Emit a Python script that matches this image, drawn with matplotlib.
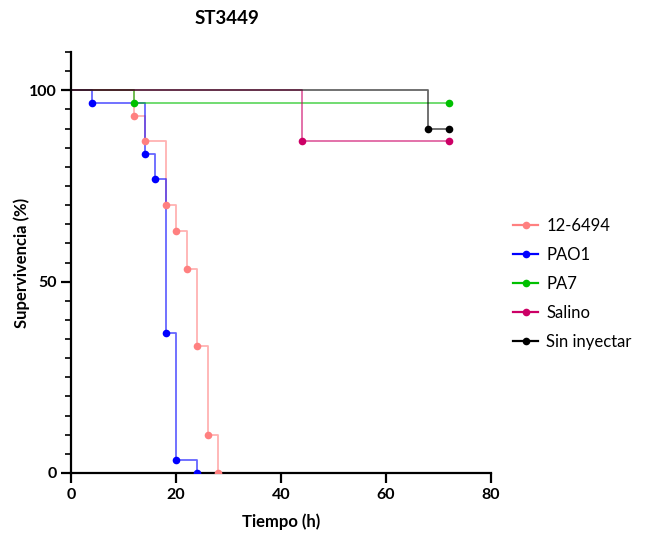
import matplotlib
matplotlib.use("Agg")
import matplotlib.pyplot as plt
from matplotlib.lines import Line2D
from matplotlib.ticker import MultipleLocator

plt.rcParams['font.family'] = ['Lato', 'DejaVu Sans']

# Kaplan-Meier survival data (time in hours, survival in %)
groups = ["12-6494", "PAO1", "PA7", "Salino", "Sin inyectar"]
colors = ["#FF8080", "#0000FF", "#00C000", "#CC0066", "#000000"]

t_126494 = [0, 12, 14, 18, 20, 22, 24, 26, 28]
s_126494 = [100, 93.3, 86.7, 70.0, 63.3, 53.3, 33.3, 10.0, 0]

t_pao1 = [0, 4, 14, 16, 18, 20, 24]
s_pao1 = [100, 96.7, 83.3, 76.7, 36.7, 3.3, 0]

t_pa7 = [0, 12, 72]
s_pa7 = [100, 96.7, 96.7]

t_salino = [0, 44, 72]
s_salino = [100, 86.7, 86.7]

t_sin = [0, 68, 72]
s_sin = [100, 90.0, 90.0]

times = [t_126494, t_pao1, t_pa7, t_salino, t_sin]
survs = [s_126494, s_pao1, s_pa7, s_salino, s_sin]

fig = plt.figure(figsize=(6.47, 5.36), dpi=100)
ax = fig.add_axes([71 / 647, 63 / 536, 420 / 647, 421 / 536])

for t, s, c in zip(times, survs, colors):
    ax.step(t, s, where="post", color=c, lw=1.3, alpha=0.6, zorder=2)
    ax.plot(t[1:], s[1:], "o", color=c, ms=5.5, mec="none", zorder=3)

ax.set_xlim(0, 80)
ax.set_ylim(0, 110)
ax.xaxis.set_major_locator(MultipleLocator(20))
ax.yaxis.set_minor_locator(MultipleLocator(5))
ax.set_yticks([0, 50, 100])

for side in ("top", "right"):
    ax.spines[side].set_visible(False)
for side in ("left", "bottom"):
    ax.spines[side].set_linewidth(1.6)
ax.tick_params(axis="both", which="major", width=1.6, length=7, labelsize=11.5)
ax.tick_params(axis="y", which="minor", width=1.2, length=4)
for lab in ax.get_xticklabels() + ax.get_yticklabels():
    lab.set_fontweight("bold")

ax.set_xlabel("Tiempo (h)", fontsize=12, fontweight="bold", va="center")
ax.xaxis.set_label_coords(0.5, (473 - 522) / 421)
ax.set_ylabel("Supervivencia (%)", fontsize=12, fontweight="bold", va="center")
ax.yaxis.set_label_coords((22 - 71) / 420, 0.5)

fig.text(227 / 647, 1 - 18 / 536, "ST3449", ha="center", va="center",
         fontsize=13.5, fontweight="bold")

handles = [Line2D([0], [0], color=c, lw=1.6, marker="o", ms=5.5, mec="none")
           for c in colors]
fig.legend(handles, groups, loc="upper left", bbox_to_anchor=(498 / 647, 1 - 203 / 536),
           frameon=False, fontsize=12, handlelength=1.5, labelspacing=0.78,
           handletextpad=0.5)

fig.savefig("out.png", dpi=100)
